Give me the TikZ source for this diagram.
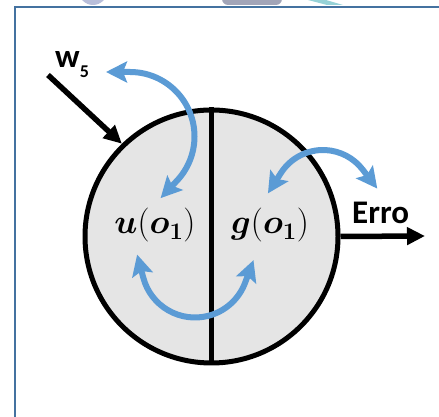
\RequirePackage{fix-cm}
\documentclass[tikz,border=0pt]{standalone}
\usepackage{amsmath}
\usepackage{bm}
\usepackage{fontspec}
\newfontfamily\calib{Carlito}
\usetikzlibrary{arrows.meta}
\definecolor{frameC}{RGB}{68,114,160}
\definecolor{blueC}{RGB}{91,155,213}
\definecolor{circfill}{RGB}{229,229,229}
\definecolor{blobA}{RGB}{184,190,218}
\definecolor{blobB}{RGB}{162,165,184}
\definecolor{blobC}{RGB}{150,210,215}
\tikzset{
  bluearrow/.style={draw=blueC, line width=6pt,
    {Stealth[length=21pt,width=21pt,inset=4pt]}-{Stealth[length=21pt,width=21pt,inset=4pt]}},
  blackarrow/.style={draw=black, line width=5.5pt, -{Triangle[length=18pt,width=17pt]}},
  sanslabel/.style={font=\calib\bfseries\fontsize{33}{38}\selectfont, inner sep=0pt},
  mathlabel/.style={font=\fontsize{34}{40}\selectfont, inner sep=0pt}
}
\begin{document}
\begin{tikzpicture}[x=1pt,y=1pt]
\useasboundingbox (0,0) rectangle (439,417);
\clip (0,0) rectangle (439,417);
% faint remnants at top
\fill[blobA] (93,428) ellipse [x radius=15pt, y radius=16pt];
\fill[blobB, rounded corners=6pt] (222,412) rectangle (282,432);
\fill[blobC] (308,417) -- (326,417) -- (343,412) -- (327,412) -- cycle;
% frame
\draw[frameC, line width=2pt] (15,-10) |- (460,410);
% circle
\node[circle, draw=black, line width=5pt, fill=circfill, minimum size=253pt, inner sep=0pt] (c) at (211.5,180.5) {};
\draw[black, line width=4.5pt] (c.north) -- (c.south);
% texts
\node[mathlabel] (u) at (155,191.5) {$\bm{u}(\bm{o}_{\bm{1}})$};
\node[mathlabel] (g) at (270,191.5) {$\bm{g}(\bm{o}_{\bm{1}})$};
\node[sanslabel, anchor=base west] (w) at (55,349) {w\raisebox{-10pt}{\fontsize{18}{18}\selectfont 5}};
\node[sanslabel, anchor=base west] (erro) at (352,193) {Erro};
% black arrows
\coordinate (ws) at (48,342);
\draw[blackarrow] (ws) -- (c.134);
\coordinate (eo) at (425,181);
\draw[blackarrow] (c.east) -- (eo);
% blue arrow 1 (top left)
\coordinate (c1) at (130,280.5);
\path (c1) ++(90:64.5pt) coordinate (a1s);
\path (c1) ++(-43.2:64.5pt) coordinate (a1e);
\path (a1s) ++(180:24pt) coordinate (a1t);
\path (a1e) ++(-133.2:24pt) coordinate (a1u);
\draw[bluearrow] (a1t) -- (a1s) arc[start angle=90, end angle=-43.2, radius=64.5pt] -- (a1u);
% blue arrow 2 (top right)
\coordinate (c2) at (323,217);
\path (c2) ++(147.5:50pt) coordinate (a2s);
\path (c2) ++(37.5:50pt) coordinate (a2e);
\path (a2s) ++(237.5:24pt) coordinate (a2t);
\path (a2e) ++(-52.5:24pt) coordinate (a2u);
\draw[bluearrow] (a2t) -- (a2s) arc[start angle=147.5, end angle=37.5, radius=50pt] -- (a2u);
% blue arrow 3 (bottom)
\coordinate (c3) at (195,153);
\path (c3) ++(194.9:53.5pt) coordinate (a3s);
\path (c3) ++(339.6:53.5pt) coordinate (a3e);
\path (a3s) ++(104.9:24pt) coordinate (a3t);
\path (a3e) ++(69.6:24pt) coordinate (a3u);
\draw[bluearrow] (a3t) -- (a3s) arc[start angle=194.9, end angle=339.6, radius=53.5pt] -- (a3u);
\end{tikzpicture}
\end{document}
